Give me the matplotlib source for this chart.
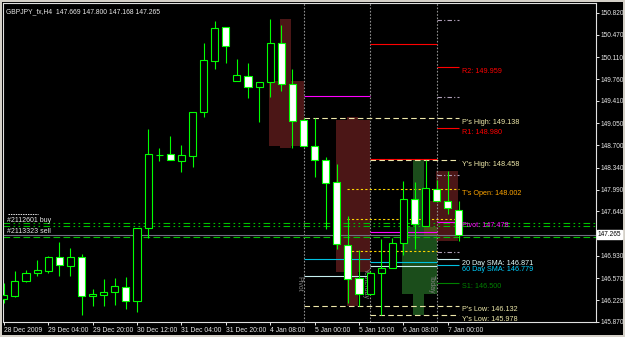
import matplotlib.pyplot as plt
from matplotlib.patches import Rectangle

# GBPJPY H4 candles (index 0 = 28 Dec 2009 12:00)
opens = [146.24, 146.285, 146.525, 146.653, 146.685, 146.910, 146.766, 146.910,
         146.285, 146.301, 146.349, 146.429, 146.205, 147.375, 148.544, 148.560,
         148.448, 148.528, 149.233, 150.051, 150.596, 149.730, 149.810, 149.634,
         149.714, 150.339, 149.682, 149.105, 148.689, 148.464, 148.112, 147.102,
         146.573, 146.317, 146.653, 146.734, 147.134, 147.839, 147.407, 148.002,
         147.807, 147.669]
highs = [146.49, 146.685, 146.702, 146.862, 146.926, 147.150, 147.054, 146.958,
         146.397, 146.557, 146.573, 146.589, 147.375, 148.961, 148.657, 148.849,
         148.705, 149.233, 150.339, 150.692, 150.596, 150.083, 150.019, 149.714,
         150.724, 150.628, 149.923, 149.138, 149.138, 148.512, 148.400, 147.567,
         147.022, 146.680, 147.198, 147.214, 148.128, 148.112, 148.458, 148.144,
         148.288, 147.800]
lows = [146.17, 146.270, 146.509, 146.605, 146.653, 146.605, 146.605, 145.980,
        146.125, 146.125, 146.141, 146.077, 146.028, 147.214, 148.448, 148.464,
        148.272, 148.352, 149.153, 149.923, 150.019, 149.730, 149.458, 149.073,
        149.474, 149.570, 148.657, 148.689, 148.192, 147.359, 147.038, 146.173,
        146.132, 146.300, 145.978, 146.734, 146.942, 147.038, 147.407, 147.800,
        147.599, 147.168]
closes = [146.30, 146.525, 146.653, 146.702, 146.910, 146.782, 146.910, 146.285,
          146.317, 146.349, 146.445, 146.205, 147.375, 148.560, 148.548, 148.464,
          148.544, 149.233, 150.067, 150.580, 150.291, 149.826, 149.634, 149.714,
          150.339, 149.682, 149.089, 148.689, 148.464, 148.096, 147.118, 146.557,
          146.317, 146.653, 146.734, 147.134, 147.839, 147.439, 148.016, 147.807,
          147.695, 147.265]

time_ticks = [0, 4, 8, 12, 16, 20, 24, 28, 32, 36, 40]
time_labels = ["28 Dec 2009", "29 Dec 04:00", "29 Dec 20:00", "30 Dec 12:00",
               "31 Dec 04:00", "31 Dec 20:00", "4 Jan 08:00", "5 Jan 00:00",
               "5 Jan 16:00", "6 Jan 08:00", "7 Jan 00:00"]
price_ticks = [150.820, 150.470, 150.110, 149.760, 149.410, 149.050, 148.700,
               148.340, 147.990, 147.640, 146.930, 146.570, 146.220, 145.870]
bid = 147.265

# daily candles drawn behind the bars (bar index of body / wick edges)
day_body = [(23.9, 27.0), (29.9, 33.0), (35.9, 39.0), (37.9, 40.95)]
day_wick = [(24.9, 25.9), (30.9, 31.9), (36.9, 37.9), (38.95, 40.95)]
day_open = [149.73, 149.105, 146.32, 147.807]
day_high = [150.72, 149.15, 148.458, 148.288]
day_low = [148.66, 146.13, 145.978, 147.168]
day_close = [148.69, 146.67, 147.39, 147.265]

# day separators
sep_idx = [27, 33, 39]
sep_names = ["Pivot", "Yesterday", "Today"]

# pivot levels per day segment (start, end)
seg = [(27, 33), (33, 39), (39, 41)]
pivots = [149.49, 147.31, 147.478]
r1 = [None, 148.488, 148.980]
r2 = [None, 150.316, 149.959]
s1 = [None, None, 146.500]
sma20 = [146.605, 146.766, 146.871]
sma60 = [146.878, 146.830, 146.779]
mids_today = [150.708, 149.470, 148.229, 146.989]

prev_high, prev_low = 149.138, 146.132
y_high, y_low = 148.458, 145.978
t_open = 148.002
session_lines = [148.002, 147.519, 147.006]

order_buy = [147.46, 147.41]
order_sell = 147.23

BG = 'black'
FG = '#e8e8e8'
LIME = '#00ff00'
MAROON = (0x4b / 255, 0x16 / 255, 0x16 / 255)
DKGREEN = (0x1b / 255, 0x4d / 255, 0x1b / 255)
KHAKI = '#eee8aa'
FS = 4.7
plt.rcParams['font.family'] = ['Liberation Sans', 'DejaVu Sans']

fig = plt.figure(figsize=(6.25, 3.37), dpi=100, facecolor='#d4d0c8')
ax = fig.add_axes([3 / 625, 15 / 337, 593 / 625, 319 / 337], facecolor=BG)
# black area under the chart for the scales
fig.patches.append(Rectangle((2 / 625, 2 / 337), 621 / 625, 333 / 337,
                             transform=fig.transFigure, facecolor=BG,
                             edgecolor='none', zorder=-5))

x0_px = 3.8
bar_px = 11.1
ax.set_xlim(-(x0_px - 3) / bar_px, (596 - x0_px) / bar_px)
ax.set_ylim(145.868, 150.980)

# day candles; overlapping boxes mix like MT4 (bitwise or)
boxes = []
for i in range(len(day_body)):
    col = DKGREEN if day_close[i] > day_open[i] else MAROON
    lo, hi = sorted([day_open[i], day_close[i]])
    boxes.append((day_body[i][0], day_body[i][1], lo, hi, col))
    boxes.append((day_wick[i][0], day_wick[i][1], day_low[i], day_high[i], col))
for xa, xb, ya, yb, col in boxes:
    ax.add_patch(Rectangle((xa, ya), xb - xa, yb - ya, facecolor=col,
                           edgecolor='none', zorder=0))
for j in range(len(boxes)):
    for k in range(j + 1, len(boxes)):
        a, b = boxes[j], boxes[k]
        if a[4] == b[4]:
            continue
        xa, xb = max(a[0], b[0]), min(a[1], b[1])
        ya, yb = max(a[2], b[2]), min(a[3], b[3])
        if xb > xa and yb > ya:
            mix = tuple(max(p, q) for p, q in zip(a[4], b[4]))
            ax.add_patch(Rectangle((xa, ya), xb - xa, yb - ya, facecolor=mix,
                                   edgecolor='none', zorder=0.5))

# separators
for k, name in zip(sep_idx, sep_names):
    ax.axvline(k, color='#909090', lw=0.8, ls=(0, (1.5, 1.5)), zorder=1)
    ax.text(k - 0.45, 146.477, name, rotation=270, color='#808080',
            fontsize=FS + 0.3, ha='center', va='center', zorder=1)

# level lines
for (a, b), p in zip(seg, pivots):
    ax.hlines(p, a, b, color='#ff00ff', lw=0.8, zorder=2)
for (a, b), v in zip(seg, r1):
    if v:
        ax.hlines(v, a, b, color='#ff0000', lw=0.8, zorder=2)
for (a, b), v in zip(seg, r2):
    if v:
        ax.hlines(v, a, b, color='#ff0000', lw=0.8, zorder=2)
for (a, b), v in zip(seg, s1):
    if v:
        ax.hlines(v, a, b, color='#008000', lw=0.8, zorder=2)
for (a, b), v in zip(seg, sma20):
    ax.hlines(v, a, b, color='#c8f0f0', lw=0.8, zorder=2)
for (a, b), v in zip(seg, sma60):
    ax.hlines(v, a, b, color='#00c0e0', lw=0.8, zorder=2)
for v in mids_today:
    ax.hlines(v, 39, 41, color='#b0a0b8', lw=0.8, ls=(0, (4, 2, 1, 2)), zorder=2)

ax.hlines([prev_high, prev_low], 27, 41, color=KHAKI, lw=0.8, ls=(0, (5, 3)), zorder=2)
ax.hlines([y_high, y_low], 33, 41, color=KHAKI, lw=0.8, ls=(0, (5, 3)), zorder=2)
for v in session_lines:
    end = 41 if v > 147.2 else 39
    ax.hlines(v, 30.95, end, color='#ffd700', lw=0.8, ls=(0, (2, 2)), zorder=2)

# orders and bid line
for v in order_buy:
    ax.axhline(v, color='#00c000', lw=0.8, ls=(0, (6, 3, 1.5, 3, 1.5, 3)), zorder=2)
ax.axhline(order_sell, color='#00c000', lw=0.8, ls=(0, (6, 3)), zorder=2)
ax.axhline(bid, color='#707080', lw=0.8, zorder=2)
ax.text(0.3, 147.50, '#2112601 buy', color=FG, fontsize=FS + 0.3, va='center', zorder=6)
ax.text(0.3, 147.32, '#2113323 sell', color=FG, fontsize=FS + 0.3, va='center', zorder=6)
ax.hlines(147.60, 0.35, 3.1, color=FG, lw=0.7, ls=(0, (1.5, 1)), zorder=6)

# candles
idx = range(len(opens))
ax.vlines(idx, lows, highs, color=LIME, lw=0.8, zorder=3)
for i in idx:
    o, c = opens[i], closes[i]
    fill = 'white' if c < o else 'black'
    ax.bar(i, abs(c - o), bottom=min(o, c), width=0.64, color=fill,
           edgecolor=LIME, linewidth=0.8, zorder=4)

# right side labels
lx = 41.3
labels = [(r2[2], 'R2: 149.959', '#ff0000'),
          (prev_high, "P's High: 149.138", KHAKI),
          (r1[2], 'R1: 148.980', '#ff0000'),
          (y_high, "Y's High: 148.458", KHAKI),
          (t_open, "T's Open: 148.002", '#ffa500'),
          (pivots[2], 'Pivot: 147.478', '#ff00ff'),
          (sma20[2], '20 Day SMA: 146.871', '#e0ffff'),
          (sma60[2], '60 Day SMA: 146.779', '#00d0ff'),
          (s1[2], 'S1: 146.500', '#008000'),
          (prev_low, "P's Low: 146.132", KHAKI),
          (y_low, "Y's Low: 145.978", KHAKI)]
for v, txt, col in labels:
    ax.text(lx, v - 0.015, txt, color=col, fontsize=FS + 0.5, va='top', ha='left', zorder=5)

ax.text(0.2, 150.84, 'GBPJPY_fx,H4  147.669 147.800 147.168 147.265', color=FG,
        fontsize=FS + 0.2, va='center', ha='left', zorder=6)

# axes styling
for s in ax.spines.values():
    s.set_color('#e0e0e0')
    s.set_linewidth(0.8)
ax.yaxis.tick_right()
ax.set_yticks(price_ticks)
ax.set_yticklabels(['%.3f' % p for p in price_ticks])
ax.set_xticks(time_ticks)
ax.set_xticklabels(time_labels)
ax.tick_params(axis='y', colors=FG, labelsize=FS, length=2, width=0.7, pad=1.5)
ax.tick_params(axis='x', colors=FG, labelsize=FS + 0.2, length=2, width=0.7, pad=1.5)
for lab in ax.get_xticklabels():
    lab.set_horizontalalignment('left')
ax.text(1.003, bid, '147.265', transform=ax.get_yaxis_transform(), color='black',
        fontsize=FS, va='center', ha='left',
        bbox=dict(boxstyle='square,pad=0.15', facecolor='white', edgecolor='white'))

fig.savefig('out.png', dpi=100, facecolor=fig.get_facecolor())
